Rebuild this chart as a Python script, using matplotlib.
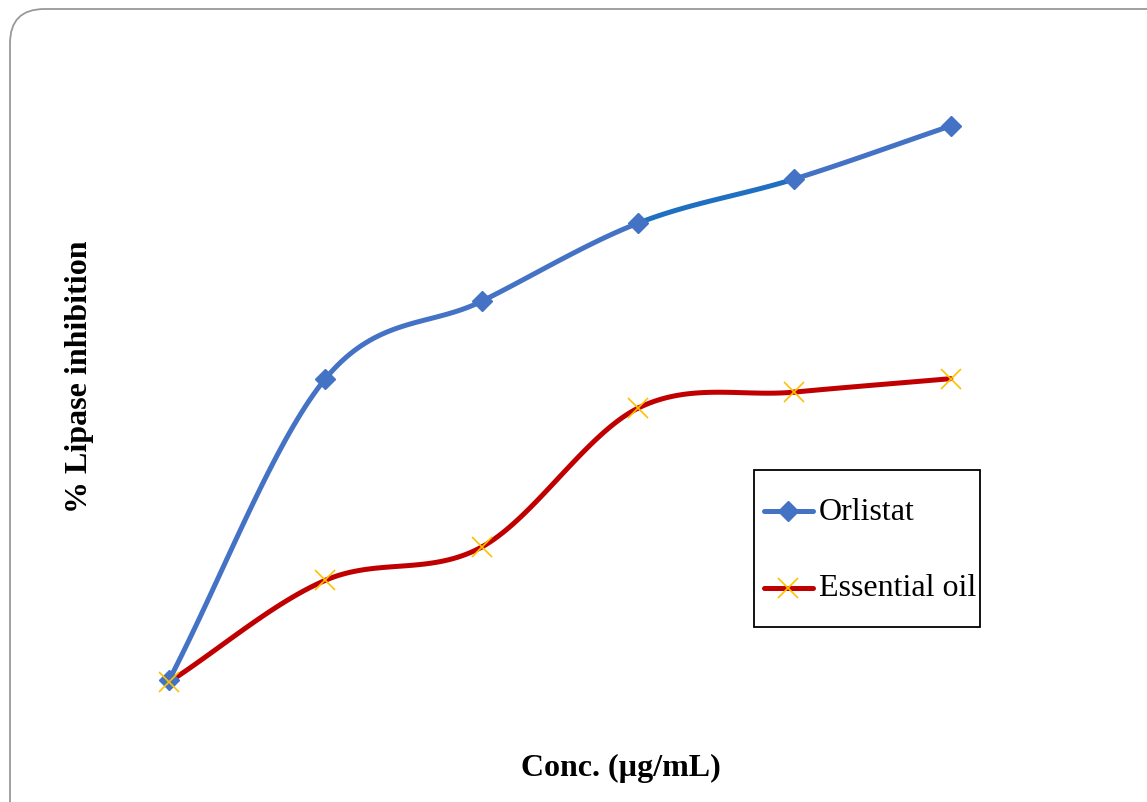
import numpy as np
import matplotlib
matplotlib.use("Agg")
import matplotlib.pyplot as plt
from matplotlib.patches import FancyBboxPatch, Rectangle
from matplotlib.lines import Line2D

# ---- data ----
concentrations = ["1", "2", "3", "4", "5", "6"]
orlistat = [9.2, 56.3, 68.4, 80.6, 87.5, 95.8]
essential_oil = [8.9, 24.8, 30.0, 51.7, 54.2, 56.3]
series_names = ["Orlistat", "Essential oil"]
x_label = "Conc. (\u00b5g/mL)"
y_label = "% Lipase inhibition"

BLUE = "#4472C4"
BLUE2 = "#1F70C1"
RED = "#C00000"
GOLD = "#FFC000"

W, H = 1147, 803


def fx(px):
    return px / W


def fy(py):
    return 1 - py / H


def smooth(x, y, n=40):
    """Cubic Bezier smoothing (Excel-style) drawn through the data points."""
    x = np.asarray(x, float)
    y = np.asarray(y, float)
    px = np.concatenate([[2 * x[0] - x[1]], x, [2 * x[-1] - x[-2]]])
    py = np.concatenate([[2 * y[0] - y[1]], y, [2 * y[-1] - y[-2]]])
    xs, ys = [], []
    t = np.linspace(0, 1, n)
    for i in range(1, len(px) - 2):
        p0, p1, p2, p3 = [np.array([px[j], py[j]]) for j in (i - 1, i, i + 1, i + 2)]
        c1 = p1 + (p2 - p0) / 6.0
        c2 = p2 - (p3 - p1) / 6.0
        b = ((1 - t) ** 3)[:, None] * p1 + (3 * (1 - t) ** 2 * t)[:, None] * c1 \
            + (3 * (1 - t) * t ** 2)[:, None] * c2 + (t ** 3)[:, None] * p2
        xs.append(b[:, 0])
        ys.append(b[:, 1])
    return xs, ys


fig = plt.figure(figsize=(W / 100, H / 100), dpi=100)
ax = fig.add_axes([0.0793, 0.0785, 0.8178, 0.797])

xpos = np.arange(1, len(concentrations) + 1)

# Orlistat
xs, ys = smooth(xpos, orlistat)
for i, (sx, sy) in enumerate(zip(xs, ys)):
    ax.plot(sx, sy, color=BLUE2 if i == 3 else BLUE, lw=3.6,
            solid_capstyle="round", zorder=2)
ax.plot(xpos, orlistat, linestyle="none", marker="D", markersize=10,
        color=BLUE, zorder=4)

# Essential oil
xs, ys = smooth(xpos, essential_oil)
for sx, sy in zip(xs, ys):
    ax.plot(sx, sy, color=RED, lw=3.6, solid_capstyle="round", zorder=3)
ax.plot(xpos, essential_oil, linestyle="none", marker="x", markersize=14,
        markeredgewidth=1.2, color=GOLD, zorder=5)

ax.set_xlim(0.5, 6.5)
ax.set_ylim(0, 100)
ax.axis("off")

fig.text(fx(80), fy(377), y_label, rotation=90, ha="center", va="center",
         fontsize=23, fontweight="bold", family="Liberation Serif")
fig.text(fx(621), fy(768), x_label, ha="center", va="center",
         fontsize=23, fontweight="bold", family="Liberation Serif")

# legend (box, sample lines, labels)
fig.patches.append(Rectangle((fx(754), fy(628)), fx(980) - fx(754), fy(471) - fy(628),
                             transform=fig.transFigure, fill=True, facecolor="white",
                             edgecolor="black", linewidth=1.3, zorder=10))
leg_y = [512, 589]
styles = [
    dict(color=BLUE, marker="D", markersize=10),
    dict(color=RED, marker="x", markersize=14, markeredgewidth=1.2,
         markeredgecolor=GOLD),
]
for name, yy, st in zip(series_names, leg_y, styles):
    fig.lines.append(Line2D([fx(764), fx(813)], [fy(yy), fy(yy)], lw=3.6,
                            solid_capstyle="round", transform=fig.transFigure,
                            zorder=11, color=st["color"]))
    mk = dict(st)
    mk.pop("color")
    fig.lines.append(Line2D([fx(788)], [fy(yy)], linestyle="none",
                            transform=fig.transFigure, zorder=12,
                            color=st["color"], **mk))
    fig.text(fx(819), fy(yy), name, ha="left", va="center", fontsize=23,
             family="Liberation Serif", zorder=12)

# rounded border of the slide
border = FancyBboxPatch((fx(10), -0.05), 1.2, fy(10) + 0.05,
                        boxstyle="round,pad=0,rounding_size=0.03",
                        transform=fig.transFigure, fill=False,
                        edgecolor="#999999", linewidth=1.3,
                        mutation_aspect=W / H)
fig.patches.append(border)

fig.savefig("out.png", dpi=100)
